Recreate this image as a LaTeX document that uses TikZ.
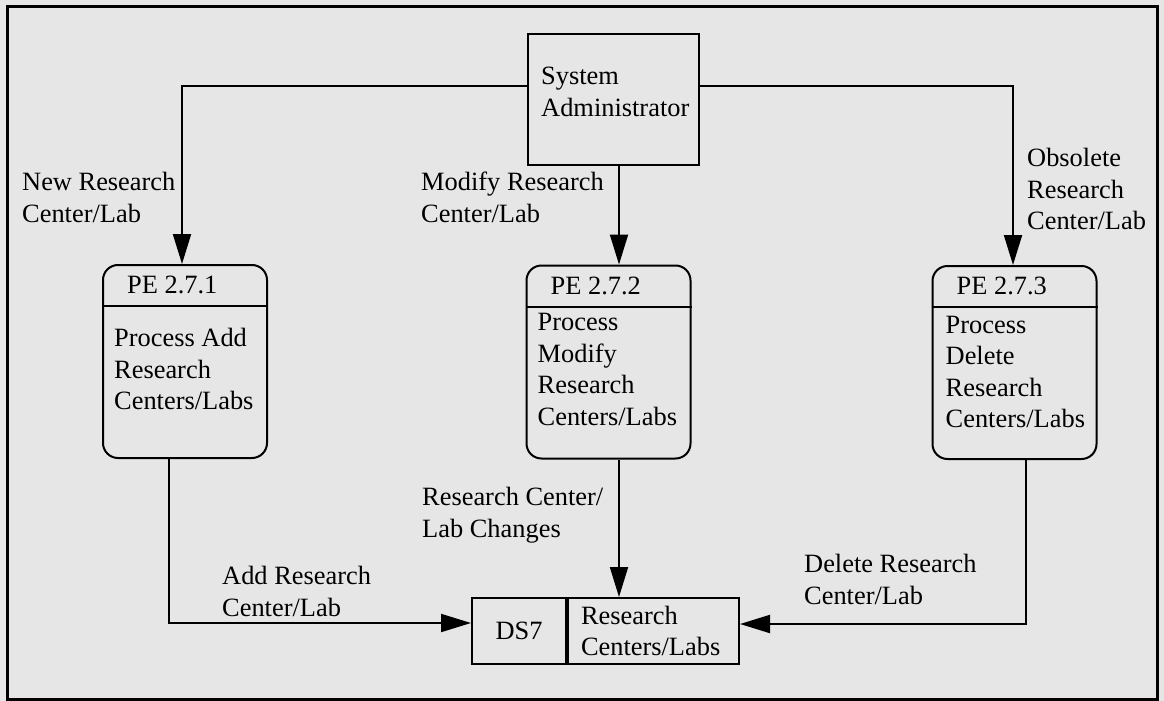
\documentclass[tikz,border=0pt]{standalone}
\usepackage{fontspec}
\setmainfont{Liberation Serif}
\usepackage{tikz}
\usetikzlibrary{arrows.meta,positioning,calc}
\definecolor{scanbg}{RGB}{229,230,229}
\tikzset{procbox/.style={draw, line width=2pt, rounded corners=15pt, minimum width=164pt, minimum height=193pt, inner sep=0pt}}
\tikzset{plainbox/.style={draw, line width=2pt, inner sep=0pt}}
\tikzset{lbl/.style={align=left, inner sep=0pt, anchor=north west}}
\tikzset{flow/.style={line width=2pt, -{Triangle[length=30pt,width=18pt]}}}

\begin{document}
\begin{tikzpicture}[x=1pt, y=-1pt, font=\fontsize{26.4}{31.5}\selectfont]
		
		\fill[scanbg] (0,0) rectangle (1164,701);
		\useasboundingbox (0,0) rectangle (1164,701);
		\draw[line width=3pt] (7,7) rectangle (1157,699);
		
		% external entity
		\node[plainbox, minimum width=171pt, minimum height=131pt] (sa) at (613.5,99.5) {};
		\node[lbl] (satext) at (541,67) {System\\Administrator};
		
		% processes
		\node[procbox] (p1) at (185,361.5) {};
		\node[procbox] (p2) at (608.5,362) {};
		\node[procbox] (p3) at (1014.5,362.5) {};
		\foreach \p in {p1,p2,p3}
		\draw[line width=2pt] ([yshift=-42pt]\p.north west) -- ([yshift=-42pt]\p.north east);
		
		\node[anchor=west, inner sep=0pt] (p1h) at ([xshift=25pt,yshift=-21pt]p1.north west) {PE 2.7.1};
		\node[anchor=west, inner sep=0pt] (p2h) at ([xshift=25pt,yshift=-21pt]p2.north west) {PE 2.7.2};
		\node[anchor=west, inner sep=0pt] (p3h) at ([xshift=25pt,yshift=-21pt]p3.north west) {PE 2.7.3};
		
		\node[lbl] (p1t) at ([xshift=12pt,yshift=-64pt]p1.north west) {Process Add\\Research\\Centers/Labs};
		\node[lbl] (p2t) at ([xshift=12pt,yshift=-49pt]p2.north west) {Process\\Modify\\Research\\Centers/Labs};
		\node[lbl] (p3t) at ([xshift=14pt,yshift=-51pt]p3.north west) {Process\\Delete\\Research\\Centers/Labs};
		
		% data store
		\node[plainbox, minimum width=94pt, minimum height=66pt] (ds) at (519,631) {DS7};
		\node[plainbox, minimum width=171pt, minimum height=66pt, text width=145pt, align=left, inner xsep=13pt, right=0pt of ds] (dsname) {Research\\Centers/Labs};
		
		% flows
		\draw[flow] ([yshift=13.5pt]sa.west) -| ([xshift=-3pt]p1.north);
		\draw[flow] ([xshift=5.5pt]sa.south) -- ([xshift=5.5pt]sa.south |- p2.north);
		\draw[flow] ([yshift=13.5pt]sa.east) -| ([xshift=-1.5pt]p3.north);
		\draw[flow] ([xshift=-16pt]p1.south) |- ([yshift=8pt]ds.west);
		\draw[flow] ([xshift=10.5pt]p2.south) -- ([xshift=10.5pt]p2.south |- dsname.north);
		\draw[flow] ([xshift=11.5pt]p3.south) |- ([yshift=7pt]dsname.east);
		
		\node[lbl] (newlbl) at (22,172) {New Research\\Center/Lab};
		\node[lbl] (modlbl) at (421,172) {Modify Research\\Center/Lab};
		\node[lbl] (obslbl) at (1027,148) {Obsolete\\Research\\Center/Lab};
		\node[lbl] (chglbl) at (422,487) {Research Center/\\Lab Changes};
		\node[lbl] (addlbl) at (222,566) {Add Research\\Center/Lab};
		\node[lbl] (dellbl) at (804,554) {Delete Research\\Center/Lab};
		
\end{tikzpicture}
\end{document}
